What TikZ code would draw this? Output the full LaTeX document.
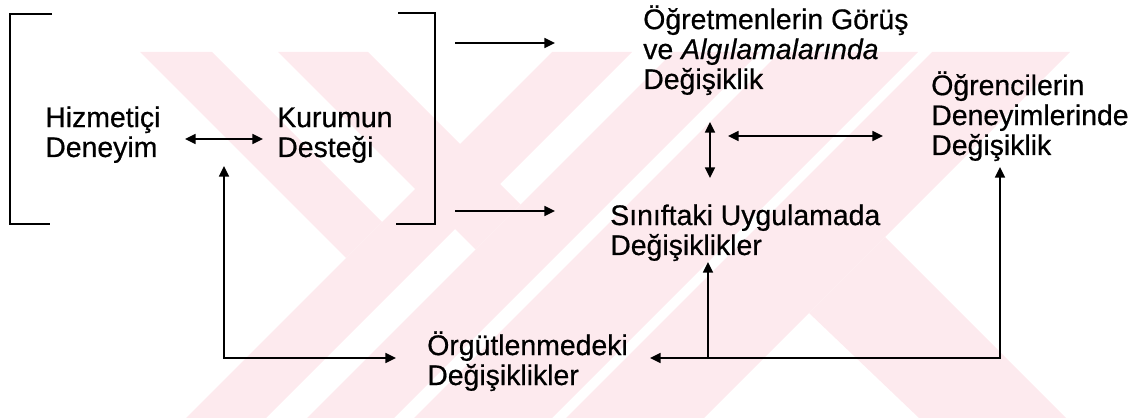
\documentclass[tikz,border=0pt]{standalone}
\usepackage{fontspec}
\setmainfont{Liberation Sans}
\newfontfamily\lblfont{Liberation Sans}[FakeBold=0.6]
\usetikzlibrary{arrows.meta}
\definecolor{MarkClr}{RGB}{253,234,238}

\tikzset{
  lbl/.style={anchor=base west,align=left,inner sep=0pt,font=\lblfont\fontsize{20.2pt}{21.3pt}\selectfont},
  link/.style={line width=1.3pt,-{Triangle[length=7.5pt,width=7pt]}},
  dlink/.style={line width=1.3pt,{Triangle[length=7.5pt,width=7pt]}-{Triangle[length=7.5pt,width=7pt]}},
  brack/.style={line width=1.5pt},
}

\begin{document}
\begin{tikzpicture}[x=0.025cm,y=-0.025cm]
\useasboundingbox (0,0) rectangle (1135,418);

% pale stripes behind the chart
\begin{scope}
\clip (0,52) rectangle (1135,418);
\fill[MarkClr] (140,52) -- (212,52) -- (382,222) -- (346,258) -- cycle;
\fill[MarkClr] (278,52) -- (368,52) -- (520.5,204.5) -- (475.5,249.5) -- cycle;
\fill[MarkClr] (552,52) -- (632,52) -- (266,418) -- (186,418) -- cycle;
\fill[MarkClr] (673,52) -- (760,52) -- (394,418) -- (307,418) -- cycle;
\fill[MarkClr] (780,52) -- (918,52) -- (552,418) -- (414,418) -- cycle;
\fill[MarkClr] (932,52) -- (1070,52) -- (704,418) -- (566,418) -- cycle;
\fill[MarkClr] (919,418) -- (1066,418) -- (885,237) -- (809,313) -- cycle;
\end{scope}

\draw[brack] (52,14) -- (10,14) -- (10,224) -- (50,224);
\draw[brack] (398,13) -- (435,13) -- (435,224) -- (396,224);

\node[lbl] (hizmet) at (45,157) {Hizmetiçi\\Deneyim};
\node[lbl] (kurum) at (277,157) {Kurumun\\Desteği};
\node[lbl] (gorus) at (643,89) {Öğretmenlerin Görüş\\ve \textit{Algılamalarında}\\Değişiklik};
\node[lbl] (ogrenci) at (931,155) {Öğrencilerin\\Deneyimlerinde\\Değişiklik};
\node[lbl] (sinif) at (610,255) {Sınıftaki Uygulamada\\Değişiklikler};
\node[lbl] (orgut) at (427,385) {Örgütlenmedeki\\Değişiklikler};

\coordinate (hzR) at (185,139); \coordinate (kuL) at (263,139);
\coordinate (brT) at (455,43); \coordinate (goL) at (555,43);
\coordinate (brB) at (455,211); \coordinate (siL) at (555,211);
\coordinate (goB) at (710,122); \coordinate (siT) at (710,178);
\coordinate (mdL) at (728,136); \coordinate (ogL) at (883,136);
\coordinate (kuB) at (224,166); \coordinate (orL) at (396,358);
\coordinate (orR) at (650,358); \coordinate (ogB) at (1000,167);
\coordinate (siS) at (708,358); \coordinate (siB) at (708,262);

\draw[dlink] (hzR) -- (kuL);
\draw[link] (brT) -- (goL);
\draw[link] (brB) -- (siL);
\draw[dlink] (goB) -- (siT);
\draw[dlink] (mdL) -- (ogL);
\draw[dlink] (kuB) |- (orL);
\draw[dlink] (orR) -| (ogB);
\draw[link] (siS) -- (siB);

\end{tikzpicture}
\end{document}
